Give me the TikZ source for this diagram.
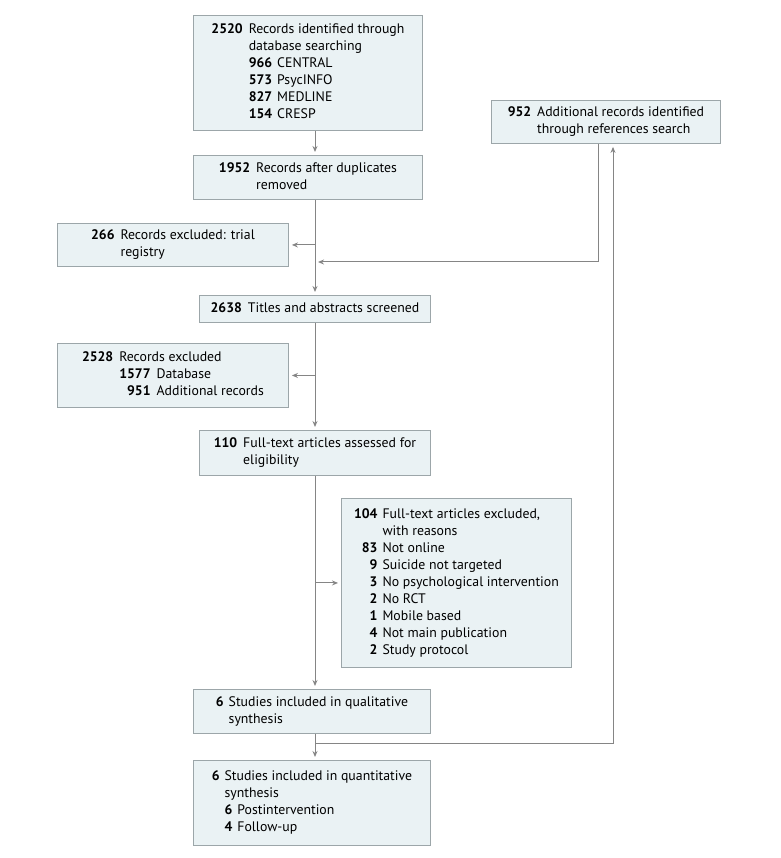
\documentclass[tikz,border=0pt]{standalone}
\usepackage{fontspec}
\setmainfont{PT Sans}
\usetikzlibrary{arrows.meta,calc}
\definecolor{boxfill}{HTML}{EAF2F4}
\definecolor{boxdraw}{HTML}{9CA6A9}
\definecolor{linegray}{HTML}{858585}
\newcommand{\nb}[1]{\textbf{#1}}
\begin{document}
\begin{tikzpicture}[x=1pt,y=-1pt,
  font=\fontsize{13.8}{17}\selectfont,
  box/.style={draw=boxdraw, fill=boxfill, line width=0.9pt, inner sep=0pt, anchor=north west},
  ln/.style={draw=linegray, line width=1pt},
  arr/.style={ln, -{Stealth[length=6pt,width=5pt]}, shorten >=3pt}]
\useasboundingbox (0,0) rectangle (780,858);
\coordinate (sp) at (315,0);
\coordinate (rx) at (598,0);
\coordinate (rx2) at (613,0);
\coordinate (j1) at (315,262);
\coordinate (j2) at (315,743);

\node[box, minimum width=229pt, minimum height=115pt] (b1) at (193,15)
 {\begin{tabular}{@{}r@{\hspace{6pt}}l@{}}\nb{2520} & Records identified through\\
  & database searching\\
  & \begin{tabular}[t]{@{}r@{\hspace{5pt}}l@{}}\nb{966} & CENTRAL\\ \nb{573} & PsycINFO\\ \nb{827} & MEDLINE\\ \nb{154} & CRESP\end{tabular}\end{tabular}};

\node[box, minimum width=229pt, minimum height=44pt] (b2) at (193,155)
 {\begin{tabular}{@{}r@{\hspace{6pt}}l@{}}\nb{1952} & Records after duplicates\\ & removed\end{tabular}};

\node[box, minimum width=229pt, minimum height=43pt] (b952) at (491,100)
 {\begin{tabular}{@{}r@{\hspace{6pt}}l@{}}\nb{952} & Additional records identified\\ & through references search\end{tabular}};

\node[box, minimum width=231pt, minimum height=43pt] (b266) at (57,223)
 {\begin{tabular}{@{}r@{\hspace{6pt}}l@{}}\nb{266} & Records excluded: trial\\ & registry\end{tabular}};

\node[box, minimum width=231pt, minimum height=27pt] (b3) at (199,295)
 {\begin{tabular}{@{}r@{\hspace{6pt}}l@{}}\nb{2638} & Titles and abstracts screened\end{tabular}};

\node[box, minimum width=231pt, minimum height=64pt] (b2528) at (57,343)
 {\begin{tabular}{@{}r@{\hspace{6pt}}l@{}}\nb{2528} & Records excluded\\
  & \begin{tabular}[t]{@{}r@{\hspace{6pt}}l@{}}\nb{1577} & Database\\ \nb{951} & Additional records\end{tabular}\end{tabular}};

\node[box, minimum width=231pt, minimum height=45pt] (b4) at (199,430)
 {\begin{tabular}{@{}r@{\hspace{6pt}}l@{}}\nb{110} & Full-text articles assessed for\\ & eligibility\end{tabular}};

\node[box, minimum width=230pt, minimum height=169pt] (b104) at (341,498)
 {\begin{tabular}{@{}r@{\hspace{5pt}}l@{}}\nb{104} & Full-text articles excluded,\\ & with reasons\\
  \nb{83} & Not online\\ \nb{9} & Suicide not targeted\\ \nb{3} & No psychological intervention\\
  \nb{2} & No RCT\\ \nb{1} & Mobile based\\ \nb{4} & Not main publication\\ \nb{2} & Study protocol\end{tabular}};

\node[box, minimum width=237pt, minimum height=44pt] (bq) at (193,689)
 {\begin{tabular}{@{}r@{\hspace{5pt}}l@{}}\nb{6} & Studies included in qualitative\\ & synthesis\end{tabular}};

\node[box, minimum width=237pt, minimum height=85pt] (bn) at (193,760)
 {\begin{tabular}{@{}r@{\hspace{5pt}}l@{}}\nb{6} & Studies included in quantitative\\ & synthesis\\
  & \begin{tabular}[t]{@{}r@{\hspace{5pt}}l@{}}\nb{6} & Postintervention\\ \nb{4} & Follow-up\end{tabular}\end{tabular}};

\draw[arr] (b1.south -| sp) -- (b2.north -| sp);
\draw[arr] (b2.south -| sp) -- (b3.north -| sp);
\draw[arr] (sp |- b266.east) -- (b266.east);
\draw[arr] (b952.south -| rx) |- (j1);
\draw[arr] (b3.south -| sp) -- (b4.north -| sp);
\draw[arr] (sp |- b2528.east) -- (b2528.east);
\draw[arr] (b4.south -| sp) -- (bq.north -| sp);
\draw[arr] (sp |- b104.west) -- (b104.west);
\draw[arr] (bq.south -| sp) -- (bn.north -| sp);
\draw[arr] (j2) -| (b952.south -| rx2);
\end{tikzpicture}
\end{document}
